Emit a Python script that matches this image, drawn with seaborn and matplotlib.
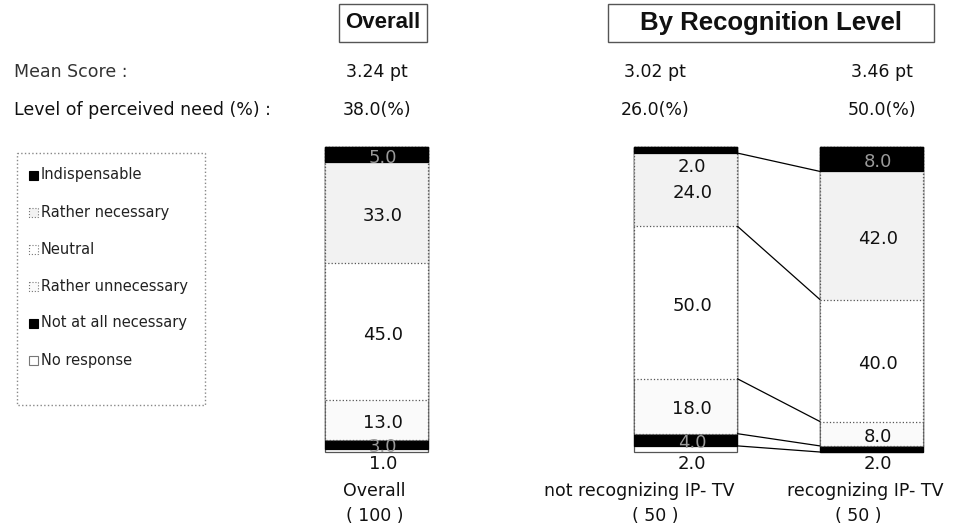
import numpy as np
import matplotlib
matplotlib.use("Agg")
import matplotlib.pyplot as plt
from matplotlib.patches import Rectangle
import seaborn as sns

# Response scale, drawn from the top of each stack downwards
categories = ["Indispensable", "Rather necessary", "Neutral",
              "Rather unnecessary", "Not at all necessary", "No response"]

groups = ["Overall", "not recognizing IP- TV", "recognizing IP- TV"]
group_n = [100, 50, 50]

overall = [5.0, 33.0, 45.0, 13.0, 3.0, 1.0]
not_recognizing = [2.0, 24.0, 50.0, 18.0, 4.0, 2.0]
recognizing = [8.0, 42.0, 40.0, 8.0, 2.0, 0.0]

mean_scores = [3.24, 3.02, 3.46]
perceived_need = [38.0, 26.0, 50.0]

# Styling per response category
fills = ["black", "#f2f2f2", "white", "#fafafa", "black", "white"]
edge_styles = ["-", ":", ":", ":", "-", "-"]

# Layout (figure is 970 x 529 px)
W, H = 970, 529
bar_pos = [0.0, 3.0, 4.8]
bar_width = 1.0
bar_top_px, px_per_pct = 147, 3.05
center_px = 377
unit_px = 103


def row(py):
    """Convert a pixel row into the percent axis used by the bars."""
    return (py - bar_top_px) / px_per_pct


def col(px):
    """Convert a pixel column into the bar-position axis."""
    return (px - center_px) / unit_px


sns.set_theme(style="white")
plt.rcParams["font.family"] = ["DejaVu Sans"]
plt.rcParams["text.color"] = "#111111"

fig = plt.figure(figsize=(W / 100, H / 100), dpi=100)
ax = fig.add_axes([0, 0, 1, 1])

table = np.array([overall, not_recognizing, recognizing])
cum = np.cumsum(table, axis=1)
native_w = np.min(np.diff(sorted(bar_pos)))

# Stacked bars: each layer spans 0..cumulative share, smaller ones drawn on top
for k in reversed(range(len(categories))):
    is_black = fills[k] == "black"
    sns.barplot(x=bar_pos, y=cum[:, k], native_scale=True, orient="x",
                width=bar_width / native_w, color=fills[k], saturation=1,
                edgecolor="black" if is_black else "#555555",
                linestyle=edge_styles[k], linewidth=0.9,
                errorbar=None, ax=ax)

# Connecting lines between the two recognition-level bars
x0 = bar_pos[1] + bar_width / 2
x1 = bar_pos[2] - bar_width / 2
for k in range(len(categories) - 1):
    ax.plot([x0, x1], [cum[1, k], cum[2, k]], color="black", lw=0.9)

# Segment value labels
val_fs = 13
for g in range(len(groups)):
    for k in range(len(categories)):
        v = table[g, k]
        if v <= 0:
            continue
        top, bot = cum[g, k] - v, cum[g, k]
        color = "#111111"
        if v >= 3:
            y = (top + bot) / 2 + 1.0
            if fills[k] == "black":
                color = "#9a9a9a"
        elif k == 0:
            y = bot + 4.5
        else:
            y = 100 + 3.8
        ax.text(bar_pos[g] + 0.06, y, f"{v:.1f}", ha="center", va="center",
                fontsize=val_fs, color=color)

# Group labels under the bars
label_fs = 12.5
label_dx = [-0.03, -0.45, -0.06]
n_dx = [-0.02, -0.30, -0.13]
for g in range(len(groups)):
    ax.text(bar_pos[g] + label_dx[g], row(491), groups[g], ha="center",
            va="center", fontsize=label_fs)
    ax.text(bar_pos[g] + n_dx[g], row(516), f"( {group_n[g]} )", ha="center",
            va="center", fontsize=label_fs)

# Header rows
head_fs = 12.5
head_dx = [0.0, -0.3, 0.1]
ax.text(col(14), row(72), "Mean Score :", ha="left", va="center",
        fontsize=head_fs, color="#333333")
ax.text(col(14), row(110), "Level of perceived need (%) :", ha="left",
        va="center", fontsize=head_fs)
for g in range(len(groups)):
    ax.text(bar_pos[g] + head_dx[g], row(72), f"{mean_scores[g]:.2f} pt",
            ha="center", va="center", fontsize=head_fs)
    ax.text(bar_pos[g] + head_dx[g], row(110), f"{perceived_need[g]:.1f}(%)",
            ha="center", va="center", fontsize=head_fs)

# Panel titles in framed boxes
title_family = ["Liberation Sans Narrow", "Liberation Sans", "DejaVu Sans"]
ax.add_patch(Rectangle((col(339), row(4)), col(427) - col(339),
                       row(42) - row(4), fc="white", ec="#555555", lw=1))
ax.text(col(383), row(23), "Overall", ha="center", va="center",
        fontsize=16, fontweight="bold", family=title_family)
ax.add_patch(Rectangle((col(608), row(4)), col(934) - col(608),
                       row(42) - row(4), fc="white", ec="#555555", lw=1))
ax.text(col(771), row(23), "By Recognition Level", ha="center", va="center",
        fontsize=18.5, fontweight="bold", family=title_family)

# Legend panel
ax.add_patch(Rectangle((col(17), row(153)), col(205) - col(17),
                       row(405) - row(153), fill=False, ec="#888888",
                       ls=":", lw=1))
for k, name in enumerate(categories):
    yk = 175 + 37 * k
    ax.add_patch(Rectangle((col(29), row(yk - 4.5)), col(38) - col(29),
                           row(yk + 4.5) - row(yk - 4.5),
                           fc=fills[k], ec="black" if fills[k] == "black" else "#777777",
                           lw=0.8, ls=edge_styles[k]))
    ax.text(col(41), row(yk), name, ha="left", va="center", fontsize=10.5,
            color="#222222")

ax.set_xlim(col(0), col(W))
ax.set_ylim(row(H), row(0))
ax.set_axis_off()

fig.savefig("out.png", dpi=100)
